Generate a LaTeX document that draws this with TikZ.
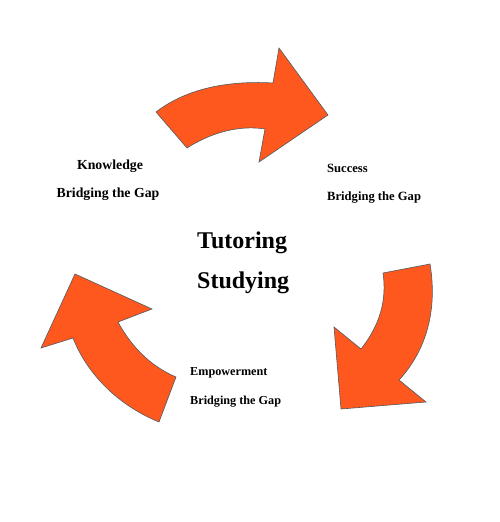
\documentclass[tikz,border=0pt]{standalone}
\usepackage{fontspec}
\setmainfont{Liberation Serif}
\usepackage{tikz}
\usetikzlibrary{positioning}
\definecolor{cycleorange}{RGB}{255,88,30}
\definecolor{cycleedge}{RGB}{80,90,95}
\tikzstyle{curvedarrow}=[fill=cycleorange, draw=cycleedge, line width=0.6pt, line join=miter]
\tikzstyle{phrase}=[inner sep=0pt, font=\bfseries, align=left]

\begin{document}
\begin{tikzpicture}[x=1pt, y=-1pt]
		\useasboundingbox (0,0) rectangle (499,522);
		% top arrow
		\draw[curvedarrow] (156,112) -- (187,148) .. controls (212,132) and (240,125) .. (265,129)
			-- (259,162) -- (328,115) -- (279,48) -- (273,83)
			.. controls (220,80) and (182,92) .. cycle;
		% right arrow
		\draw[curvedarrow] (383,273) -- (430,264) .. controls (438,312) and (425,352) .. (399,380)
			-- (426,402) -- (341,409) -- (334,327) -- (361,349)
			.. controls (380,325) and (387,300) .. cycle;
		% left arrow
		\draw[curvedarrow] (176,377) -- (159,422) .. controls (120,406) and (88,376) .. (73,338)
			-- (41,348) -- (75,274) -- (152,309) -- (118,322)
			.. controls (131,346) and (150,366) .. cycle;
		%---------------------
		\node[phrase, font=\bfseries\fontsize{13.8}{16}\selectfont] (knowledge) at (110,166) {Knowledge};
		\node[phrase, font=\bfseries\fontsize{13.8}{16}\selectfont] (knowgap) at (108,194) {Bridging the Gap};
		\node[phrase, anchor=west, font=\bfseries\fontsize{12.6}{15}\selectfont] (success) at (327,168) {Success};
		\node[phrase, anchor=west, font=\bfseries\fontsize{12.6}{15}\selectfont] (succgap) at (327,198) {Bridging the Gap};
		\node[phrase, anchor=west, font=\bfseries\fontsize{12.2}{14}\selectfont] (empower) at (190,373) {Empowerment};
		\node[phrase, anchor=west, font=\bfseries\fontsize{12.2}{14}\selectfont] (empgap) at (190,402) {Bridging the Gap};
		\node[phrase, anchor=west, font=\bfseries\fontsize{24}{27}\selectfont] (tutoring) at (197,243) {Tutoring};
		\node[phrase, anchor=west, font=\bfseries\fontsize{24}{27}\selectfont] (studying) at (197,283) {Studying};
	\end{tikzpicture}
\end{document}
